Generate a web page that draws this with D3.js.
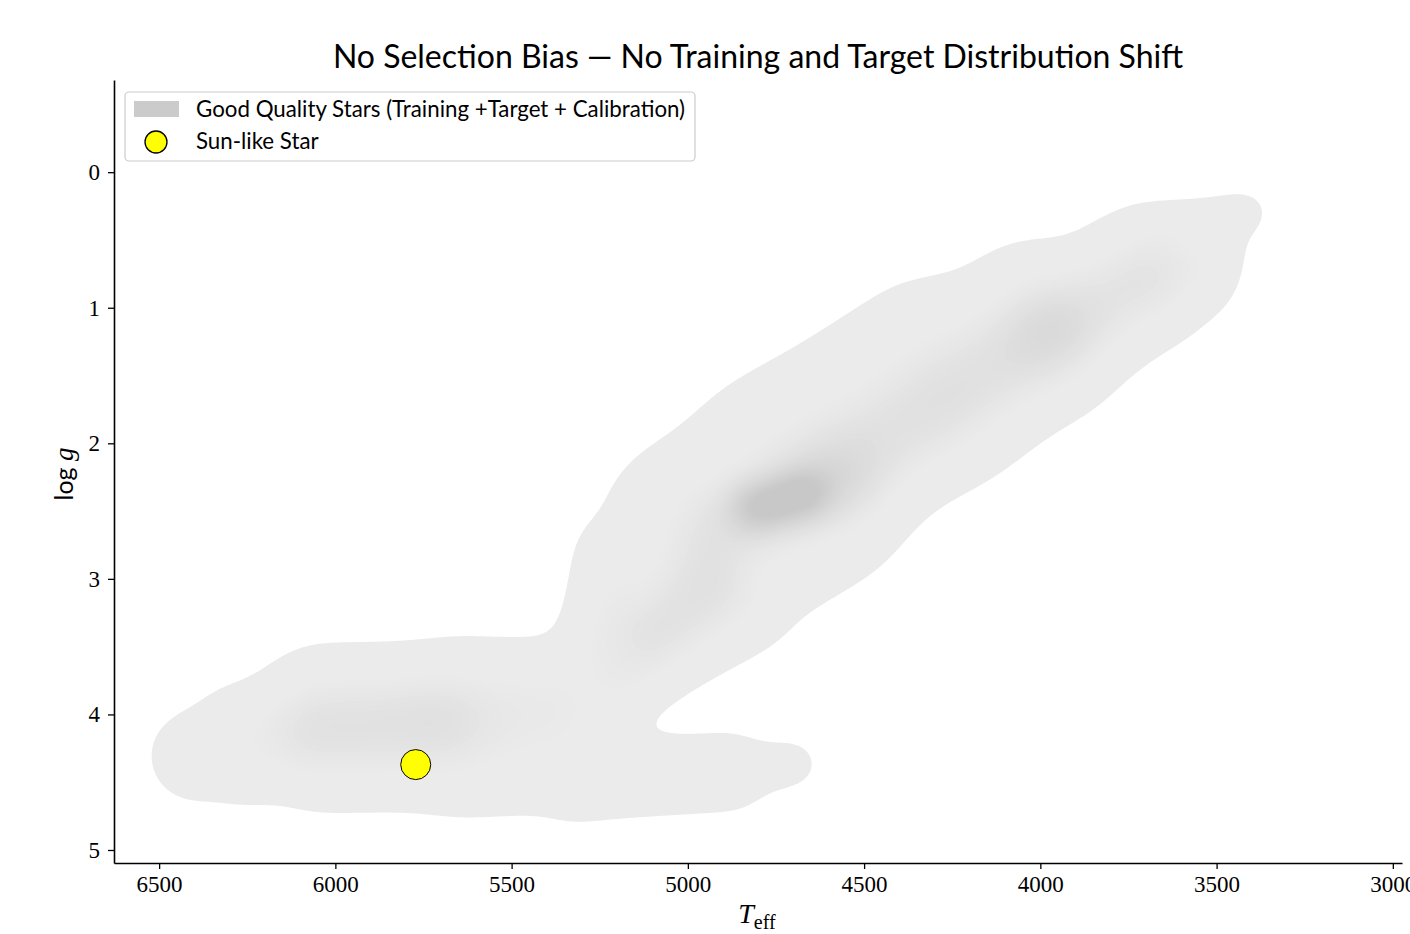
<!DOCTYPE html>
<html>
<head>
<meta charset="utf-8">
<script src="https://cdn.jsdelivr.net/npm/d3@7"></script>
<style>
  body { margin: 0; background: #ffffff; }
  svg { display: block; }
</style>
</head>
<body>
<svg id="chart" width="1410" height="934"></svg>
<script>
// ---------------------------------------------------------------
// Kiel diagram (Teff vs log g) of the good-quality star sample,
// shown as a filled kernel-density surface, plus the Sun.
// ---------------------------------------------------------------

// Outer extent of the sample, traced as branches of the diagram.
// [Teff start, log g start, Teff end, log g end, spread (dex)]
const sampleBranches = [
  [6398, 4.307, 6341, 4.277, 0.240],   // hot main-sequence end
  [6256, 4.218, 6157, 4.174, 0.327],   // hot main sequence
  [6016, 4.100, 5618, 4.100, 0.436],   // main sequence
  [5618, 4.100, 5391, 4.115, 0.463],   // main sequence, cool side
  [5306, 4.491, 4880, 4.425, 0.207],   // K dwarfs
  [4852, 4.410, 4696, 4.366, 0.109],   // K dwarfs, coolest
  [5178, 3.672, 4852, 3.156, 0.272],   // subgiant bridge
  [5249, 3.451, 5207, 2.861, 0.218],   // subgiant branch
  [4939, 2.728, 4687, 2.315, 0.610],   // lower giant branch
  [4710, 2.219, 4303, 1.548, 0.561],   // giant branch
  [4283, 1.629, 4021, 1.194, 0.490],   // giant branch
  [4002, 1.270, 3714, 0.795, 0.381],   // upper giant branch
  [3714, 0.795, 3590, 0.692, 0.300],   // upper giant branch
  [3689, 0.427, 3411, 0.294, 0.098],   // giant-branch tip, low-gravity edge
  [3533, 0.736, 3473, 0.515, 0.087]    // giant-branch tip, cool edge
];

// Over-densities inside the sample.
// [Teff start, log g start, Teff end, log g end, spread (dex), relative weight]
const densityPeaks = [
  [6044, 4.100, 5760, 4.056, 0.236, 0.22],  // main-sequence turn-off crowd
  [4810, 2.477, 4668, 2.374, 0.100, 0.80],  // red clump core
  [4909, 2.603, 4568, 2.271, 0.207, 0.20],  // red clump halo
  [4568, 2.197, 3973, 1.164, 0.236, 0.22],  // giant-branch ridge
  [3973, 1.164, 3689, 0.758, 0.207, 0.15],  // upper giant-branch ridge
  [5107, 3.340, 4951, 3.045, 0.184, 0.25],  // base of the giant branch
  [5618, 4.004, 5249, 3.746, 0.221, 0.08]   // turn-off to subgiants
];
const branchWeight = 0.25;

// Reference star
const sunTeff = 5772;
const sunLogg = 4.37;

// Axis ticks
const teffTicks = [6500, 6000, 5500, 5000, 4500, 4000, 3500, 3000];
const loggTicks = [0, 1, 2, 3, 4, 5];

// Density levels for the filled contours
const densityLevels = [0.1].concat(d3.range(0.27, 1.2, 0.022));

// ---------------------------------------------------------------
const svg = d3.select("#chart");

const x = d3.scaleLinear().domain([6628, 2974]).range([114, 1402]);
const y = d3.scaleLinear().domain([-0.68, 5.096]).range([80, 863]);

const shade = d3.scaleLinear()
  .domain([0.26, 0.9])
  .range(["#ebebeb", "#c8c8c8"])
  .clamp(true);

// --- density grid (evaluated in screen space, 2 px cells) ---
const step = 2;
const [x0, x1] = x.range();
const [y0, y1] = y.range();
const nx = Math.ceil((x1 - x0) / step) + 1;
const ny = Math.ceil((y1 - y0) / step) + 1;
const pxPerDex = Math.abs(y(1) - y(0));

function toScreen(b, w) {
  const s = b[4] * pxPerDex;
  return { ax: x(b[0]), ay: y(b[1]), bx: x(b[2]), by: y(b[3]), s2: s * s, w: w };
}
function dist2(px, py, s) {
  const dx = s.bx - s.ax, dy = s.by - s.ay;
  const L = dx * dx + dy * dy;
  let t = L > 0 ? ((px - s.ax) * dx + (py - s.ay) * dy) / L : 0;
  t = Math.max(0, Math.min(1, t));
  const ex = s.ax + t * dx - px, ey = s.ay + t * dy - py;
  return ex * ex + ey * ey;
}

const branches = sampleBranches.map(b => toScreen(b, branchWeight));
const peaks = densityPeaks.map(b => toScreen(b, b[5]));

const grid = new Float64Array(nx * ny);
for (let j = 0; j < ny; j++) {
  const py = y0 + j * step;
  for (let i = 0; i < nx; i++) {
    const px = x0 + i * step;
    let s6 = 0;
    for (const b of branches) {
      const d2 = dist2(px, py, b);
      if (d2 < 30 * b.s2) {
        const v = b.w * Math.exp(-d2 / (2 * b.s2));
        s6 += Math.pow(v, 6);
      }
    }
    let v = Math.pow(s6, 1 / 6);
    for (const p of peaks) {
      const d2 = dist2(px, py, p);
      if (d2 < 30 * p.s2) v += p.w * Math.exp(-d2 / (2 * p.s2));
    }
    grid[j * nx + i] = v;
  }
}
// kernel smoothing of the surface
d3.blur2({ data: grid, width: nx, height: ny }, 6);

const contours = d3.contours().size([nx, ny]).thresholds(densityLevels)(Array.from(grid));

// grid coordinates -> screen
const gu = d3.scaleLinear().domain([0.5, nx - 0.5]).range([x0, x0 + (nx - 1) * step]);
const gv = d3.scaleLinear().domain([0.5, ny - 0.5]).range([y0, y0 + (ny - 1) * step]);
const gridPath = d3.geoPath(d3.geoTransform({
  point: function (u, v) { this.stream.point(gu(u), gv(v)); }
}));

svg.append("clipPath").attr("id", "plot-area")
  .append("rect").attr("x", x0).attr("y", y0).attr("width", x1 - x0).attr("height", y1 - y0);

svg.append("g")
  .attr("clip-path", "url(#plot-area)")
  .selectAll("path")
  .data(contours)
  .join("path")
  .attr("d", gridPath)
  .attr("fill", d => shade(d.value))
  .attr("stroke", "none");

// --- the Sun ---
svg.append("circle")
  .attr("cx", x(sunTeff))
  .attr("cy", y(sunLogg))
  .attr("r", 15)
  .attr("fill", "#ffff00")
  .attr("stroke", "#000000")
  .attr("stroke-width", 1);

// --- axes ---
const serif = "'Liberation Serif', 'DejaVu Serif', serif";
const sans = "Lato, 'Open Sans', 'DejaVu Sans', sans-serif";

const xAxis = svg.append("g")
  .attr("transform", `translate(0,${y1})`)
  .call(d3.axisBottom(x).tickValues(teffTicks).tickSize(6).tickSizeOuter(0).tickPadding(7).tickFormat(d3.format("d")));
const yAxis = svg.append("g")
  .attr("transform", `translate(${x0},0)`)
  .call(d3.axisLeft(y).tickValues(loggTicks).tickSize(6).tickSizeOuter(0).tickPadding(8).tickFormat(d3.format("d")));

[xAxis, yAxis].forEach(g => {
  g.attr("font-family", serif).attr("font-size", 23);
  g.select(".domain").attr("stroke", "#000").attr("stroke-width", 1.6);
  g.selectAll(".tick line").attr("stroke", "#000").attr("stroke-width", 1.3);
  g.selectAll(".tick text")
    .attr("fill", "#000")
    .attr("font-family", serif)
    .style("font-family", serif)
    .style("font-size", "23px");
});

// axis labels
svg.append("text")
  .attr("x", 757).attr("y", 923)
  .attr("text-anchor", "middle")
  .style("font-family", serif)
  .call(t => {
    t.append("tspan").attr("font-style", "italic").style("font-size", "28px").text("T");
    t.append("tspan").attr("dy", 6).style("font-size", "20px").text("eff");
  });

svg.append("text")
  .attr("transform", "translate(73,474) rotate(-90)")
  .attr("text-anchor", "middle")
  .call(t => {
    t.append("tspan").style("font-family", sans).style("font-size", "25px").text("log ");
    t.append("tspan").style("font-family", serif).attr("font-style", "italic").style("font-size", "27px").text("g");
  });

// --- title ---
svg.append("text")
  .attr("x", (x0 + x1) / 2).attr("y", 68)
  .attr("text-anchor", "middle")
  .style("font-family", sans)
  .style("font-size", "32px")
  .attr("fill", "#000")
  .text("No Selection Bias \u2014 No Training and Target Distribution Shift");

// --- legend ---
const legend = svg.append("g");
legend.append("rect")
  .attr("x", 125).attr("y", 92).attr("width", 570).attr("height", 69)
  .attr("rx", 4)
  .attr("fill", "#ffffff").attr("fill-opacity", 0.8)
  .attr("stroke", "#cccccc").attr("stroke-width", 1.2);
legend.append("rect")
  .attr("x", 134).attr("y", 101).attr("width", 45).attr("height", 16)
  .attr("fill", "#cbcbcb");
legend.append("text")
  .attr("x", 196).attr("y", 117)
  .style("font-family", sans).style("font-size", "22.3px")
  .text("Good Quality Stars (Training +Target + Calibration)");
legend.append("circle")
  .attr("cx", 156).attr("cy", 142).attr("r", 11)
  .attr("fill", "#ffff00").attr("stroke", "#000").attr("stroke-width", 1.3);
legend.append("text")
  .attr("x", 196).attr("y", 149)
  .style("font-family", sans).style("font-size", "22.3px")
  .text("Sun-like Star");
</script>
</body>
</html>
